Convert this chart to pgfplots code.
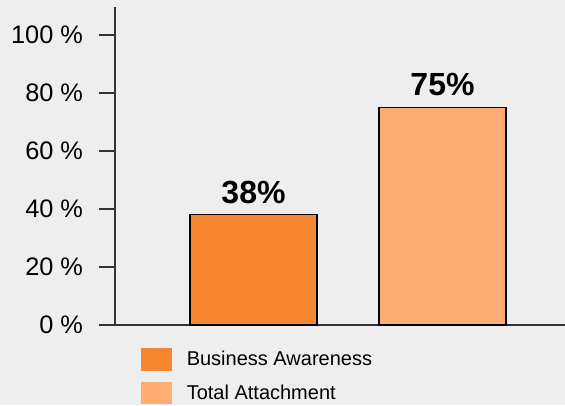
\documentclass[border=0pt]{standalone}
\usepackage{fontspec}
\setmainfont{Liberation Sans}
\usepackage{pgfplots}
\pgfplotsset{compat=1.18}
\definecolor{bg}{HTML}{EEEEEE}
\definecolor{darkor}{HTML}{F5852F}
\definecolor{lightor}{HTML}{FFAD73}
\definecolor{axc}{HTML}{333333}
\begin{document}
\begin{tikzpicture}
\path[fill=bg, use as bounding box] (-86.25pt,-60pt) rectangle (337.5pt,243.75pt);
\begin{axis}[
  at={(0,0)}, anchor=south west,
  scale only axis,
  width=337.5pt, height=238.5pt,
  xmin=0.2672, xmax=2.648,
  ymin=0, ymax=109.655,
  axis x line=bottom, axis y line=left,
  axis line style={-, draw=axc, line width=1.1pt},
  xtick=\empty,
  ytick={0,20,40,60,80,100},
  tick align=outside,
  major tick length=12pt,
  tick style={draw=axc, line width=1.1pt},
  /pgf/number format/assume math mode=true,
  yticklabel={\pgfmathprintnumber{\tick} \%},
  yticklabel style={font=\fontsize{19}{22}\selectfont, inner sep=0pt, anchor=east, xshift=-11.8pt},
  ybar, bar width=95.25pt, bar shift=0pt,
  nodes near coords={\pgfmathprintnumber{\pgfplotspointmeta}\%},
  nodes near coords style={font=\bfseries\fontsize{24}{28}\selectfont, anchor=base, inner sep=0pt, yshift=8.8pt, text=black},
  legend style={draw=none, fill=none, inner sep=0pt, outer sep=0pt,
    at={(axis description cs:0.058,-0.0734)}, anchor=north west,
    row sep=8.3pt, column sep=11.25pt,
    font=\fontsize{15}{18}\selectfont,
    nodes={inner sep=0pt, anchor=west}},
  legend image code/.code={\fill[#1,draw=none] (0pt,-8.35pt) rectangle (23pt,8.35pt);},
  legend cell align=left,
  clip=false,
]
\addplot[fill=darkor, draw=black, line width=0.9pt] coordinates {(1,38)};
\addlegendentry{Business Awareness}
\addplot[fill=lightor, draw=black, line width=0.9pt] coordinates {(2,75)};
\addlegendentry{Total Attachment}
\end{axis}
\end{tikzpicture}
\end{document}
